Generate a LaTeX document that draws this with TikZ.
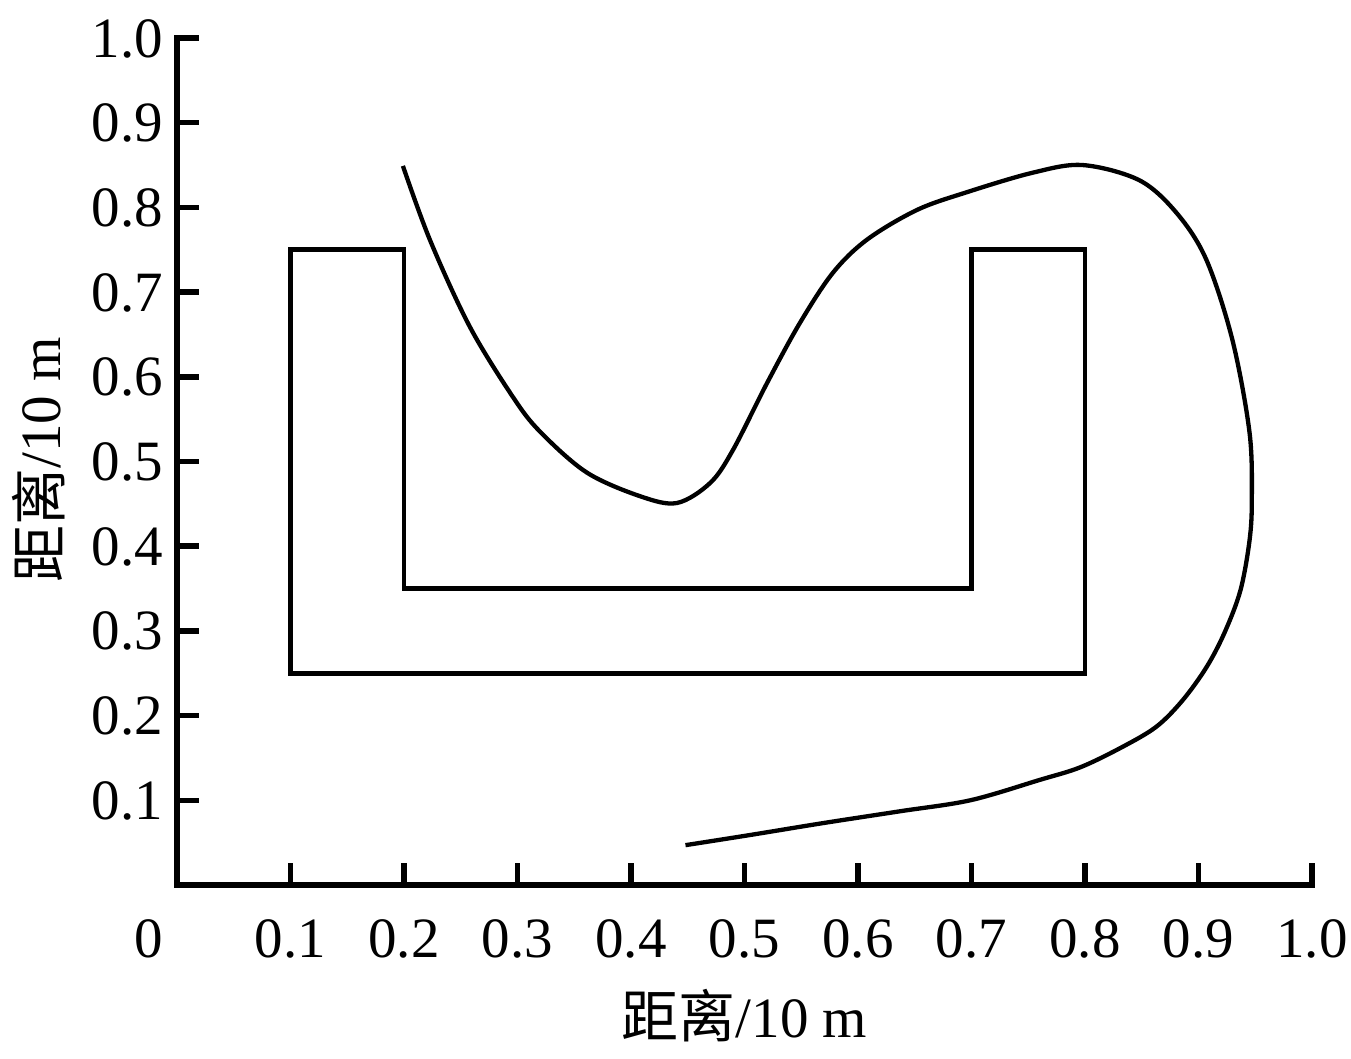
\documentclass[tikz,border=0pt]{standalone}
\usepackage{fontspec}
\setmainfont{Liberation Serif}
\newfontfamily\cjk{Noto Sans CJK SC}
\begin{document}
\begin{tikzpicture}[x=1135pt,y=847pt,
  axisline/.style={line width=5.5pt},
  shapeline/.style={line width=4.8pt,line join=miter},
  curveline/.style={line width=4.3pt},
  ticklab/.style={inner sep=0pt,font=\fontsize{57}{68}\selectfont},
  titlelab/.style={inner sep=0pt,font=\fontsize{57}{68}\selectfont}]
\useasboundingbox (-0.156,-0.2054) rectangle (1.0344,1.0449);
% axes
\coordinate (O) at (0,0);
\coordinate (Ytop) at (0,1);
\coordinate (Xend) at (1,0);
\draw[axisline,line cap=rect] (Ytop) -- (O) -- (Xend);
% y ticks and labels
\foreach \v/\t/\i in {0.1/0.1/1,0.2/0.2/2,0.3/0.3/3,0.4/0.4/4,0.5/0.5/5,0.6/0.6/6,0.7/0.7/7,0.8/0.8/8,0.9/0.9/9,1.0/1.0/10}{
  \coordinate (yt\i) at (0,\v);
  \draw[axisline] (yt\i) -- ++(22pt,0);
  \node[ticklab,anchor=base east,xshift=-14pt,yshift=-19pt] (yl\i) at (yt\i) {\t};
}
% x ticks and labels
\foreach \v/\t/\i in {0.1/0.1/1,0.2/0.2/2,0.3/0.3/3,0.4/0.4/4,0.5/0.5/5,0.6/0.6/6,0.7/0.7/7,0.8/0.8/8,0.9/0.9/9,1.0/1.0/10}{
  \coordinate (xt\i) at (\v,0);
  \draw[axisline] (xt\i) -- ++(0,22pt);
  \node[ticklab,anchor=base,yshift=-73pt] (xl\i) at (xt\i) {\t};
}
\node[ticklab,anchor=base,xshift=-28pt,yshift=-73pt] (zero) at (O) {0};
% titles
\node[titlelab,anchor=base,yshift=-153pt] (xtitle) at (0.5,0) {{\cjk 距离}/10 m};
\coordinate (ytpos) at (-0.1031,0.502);
\node[titlelab,anchor=base,rotate=90] (ytitle) at (ytpos) {{\cjk 距离}/10 m};
% U shape
\draw[shapeline] (0.1,0.25) -- (0.1,0.75) -- (0.2,0.75) -- (0.2,0.35) -- (0.7,0.35) -- (0.7,0.75) -- (0.8,0.75) -- (0.8,0.25) -- cycle;
% path curve
\draw[curveline] plot[smooth,tension=0.55] coordinates {
(0.199,0.849) (0.223,0.761) (0.258,0.659) (0.296,0.576) (0.320,0.535)
(0.361,0.487) (0.408,0.459) (0.4405,0.451) (0.470,0.475) (0.490,0.514)
(0.520,0.593) (0.549,0.664) (0.578,0.723) (0.608,0.762) (0.652,0.797)
(0.696,0.818) (0.754,0.841) (0.798,0.850) (0.848,0.832) (0.881,0.793)
(0.907,0.738) (0.930,0.643) (0.945,0.534) (0.947,0.455) (0.945,0.407)
(0.937,0.348) (0.923,0.298) (0.907,0.257) (0.886,0.218) (0.863,0.187)
(0.833,0.163) (0.796,0.139) (0.760,0.124) (0.699,0.100) (0.637,0.087)
(0.569,0.073) (0.505,0.059) (0.448,0.047)};
\end{tikzpicture}
\end{document}
